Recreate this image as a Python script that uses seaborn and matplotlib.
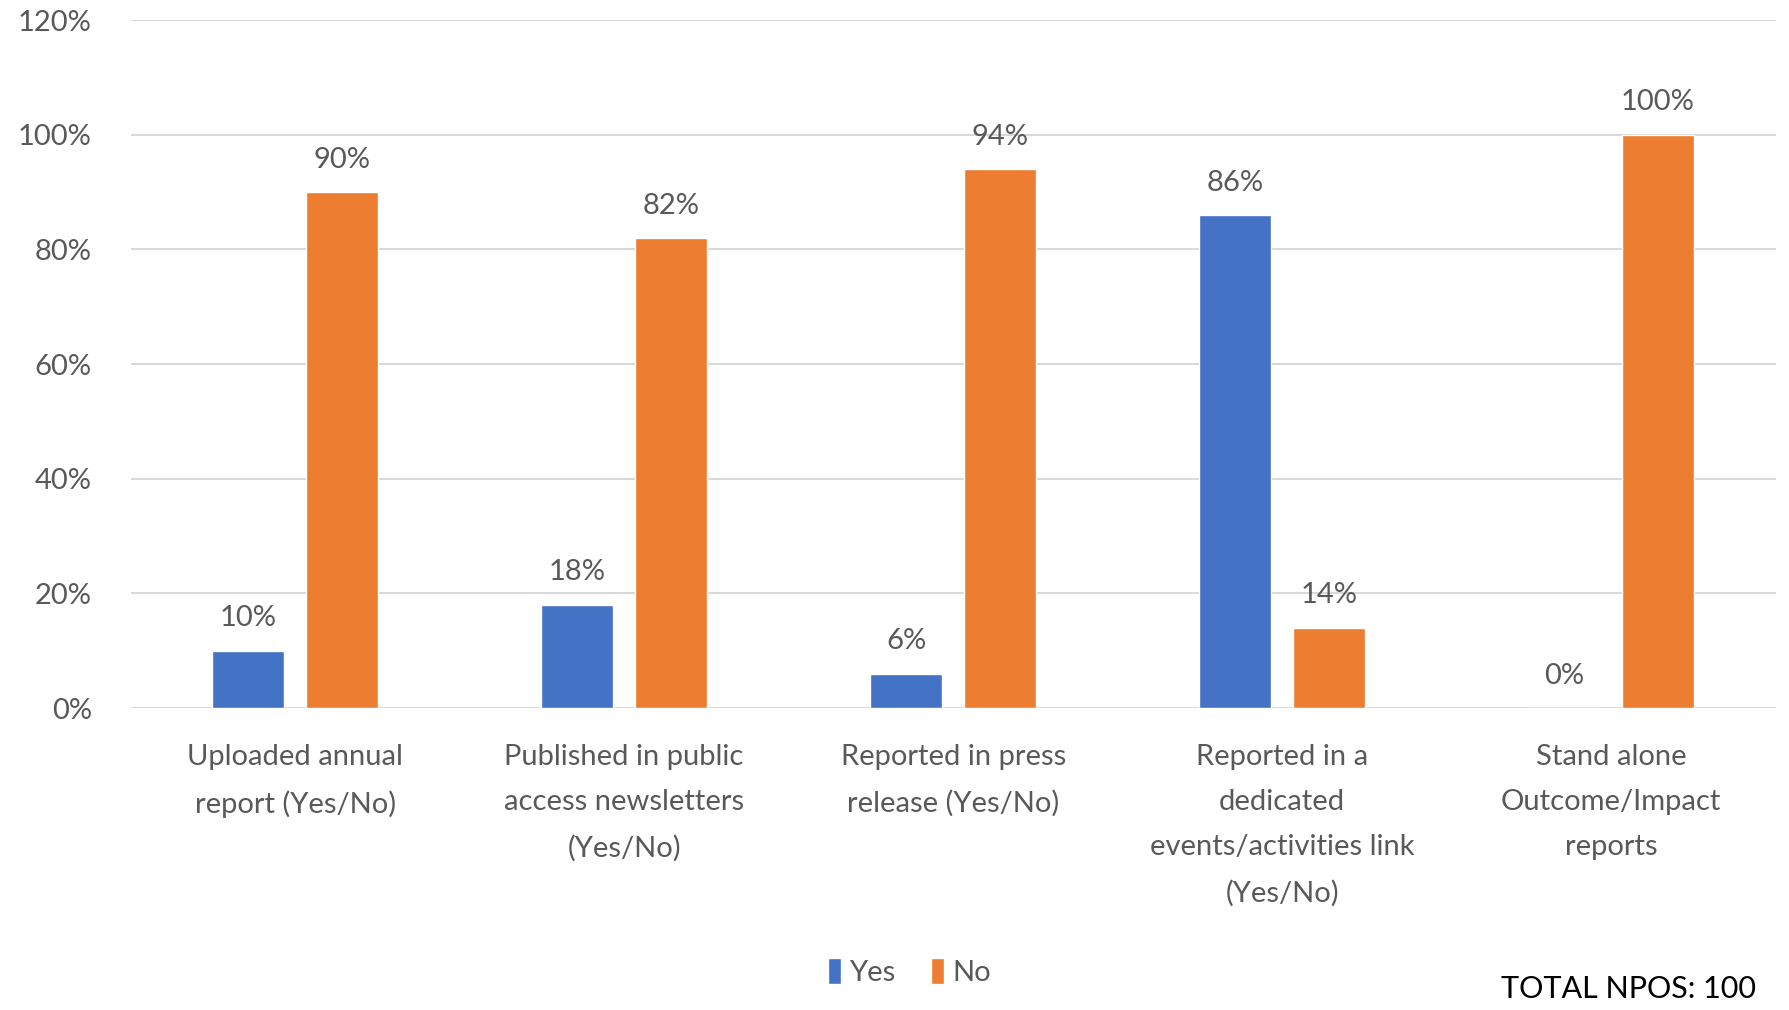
import seaborn as sns
import pandas as pd
import matplotlib.pyplot as plt
from matplotlib.ticker import FuncFormatter

categories = ['Uploaded annual\nreport (Yes/No)',
              'Published in public\naccess newsletters\n(Yes/No)',
              'Reported in press\nrelease (Yes/No)',
              'Reported in a\ndedicated\nevents/activities link\n(Yes/No)',
              'Stand alone\nOutcome/Impact\nreports']
yes_vals = [10, 18, 6, 86, 0]
no_vals = [90, 82, 94, 14, 100]
series = ['Yes', 'No']
colors = ['#4472C4', '#ED7D31']

rows = []
for cat, y, n in zip(categories, yes_vals, no_vals):
    rows.append([cat, 'Yes', y])
    rows.append([cat, 'No', n])
df = pd.DataFrame(rows, columns=['Category', 'Answer', 'Percent'])

sns.set_style('white')
plt.rcParams['font.family'] = ['Lato', 'DejaVu Sans']
txt = '#595959'

fig = plt.figure(figsize=(17.9, 10.1), dpi=100)
ax = fig.add_axes([0.073, 0.299, 0.919, 0.681])

sns.barplot(data=df, x='Category', y='Percent', hue='Answer', hue_order=series,
            palette=colors, width=0.57, gap=0.228, saturation=1, ax=ax)

for c in ax.containers:
    ax.bar_label(c, labels=[f'{v:.0f}%' for v in c.datavalues], padding=14,
                 fontsize=21, color=txt)

ax.set_ylim(0, 120)
ax.set_yticks(range(0, 121, 20))
ax.yaxis.set_major_formatter(FuncFormatter(lambda v, p: f'{v:.0f}%'))
ax.grid(axis='y', color='#d9d9d9', linewidth=1.5)
ax.set_axisbelow(True)
for s in ax.spines.values():
    s.set_visible(False)
ax.tick_params(axis='both', length=0, labelsize=21, labelcolor=txt)
ax.tick_params(axis='x', pad=26)
ax.tick_params(axis='y', pad=28)
for lab in ax.get_xticklabels():
    lab.set_linespacing(1.9)
ax.set_xlabel('')
ax.set_ylabel('')

handles, labels = ax.get_legend_handles_labels()
ax.legend_.remove()
fig.legend(handles, labels, loc='center', bbox_to_anchor=(0.508, 0.038), ncol=2,
           frameon=False, fontsize=21, labelcolor=txt, handlelength=0.45,
           handleheight=1.0, handletextpad=0.3, columnspacing=1.2)

fig.text(0.981, 0.021, 'TOTAL NPOS: 100', ha='right', va='center', fontsize=22,
         color='black')

fig.savefig('out.png', dpi=100)
